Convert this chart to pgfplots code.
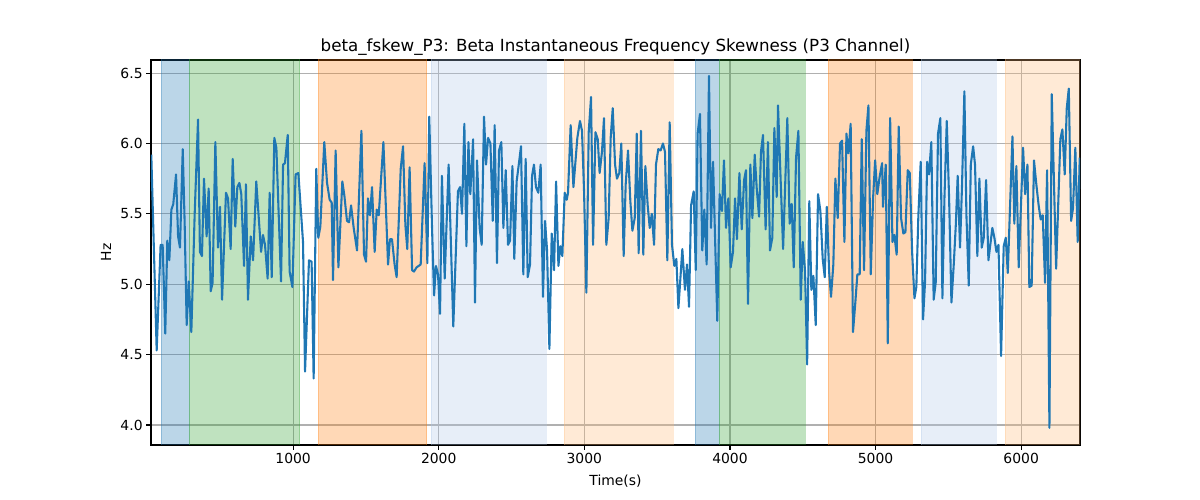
\documentclass[border=0pt]{standalone}
\usepackage{fontspec}
\setmainfont{DejaVu Sans}
\usepackage{pgfplots}
\pgfplotsset{compat=1.18}
\definecolor{tabblue}{HTML}{1F77B4}
\definecolor{tabgreen}{HTML}{2CA02C}
\definecolor{taborange}{HTML}{FF7F0E}
\definecolor{tablblue}{HTML}{AEC7E8}
\definecolor{tablorange}{HTML}{FFBB78}
\definecolor{gridgray}{HTML}{B0B0B0}
\begin{document}
\begin{tikzpicture}
\useasboundingbox (-151pt,-55pt) rectangle (1049pt,445pt);
\begin{axis}[
  scale only axis,
  width=929pt, height=385pt,
  xmin=24, xmax=6404, ymin=3.858, ymax=6.593,
  font=\fontsize{13.9}{16}\selectfont,
  /pgf/number format/assume math mode=true,
  xtick={1000,2000,3000,4000,5000,6000},
  ytick={4.0,4.5,5.0,5.5,6.0,6.5},
  xticklabel style={/pgf/number format/1000 sep={}},
  yticklabel style={/pgf/number format/fixed,/pgf/number format/fixed zerofill,/pgf/number format/precision=1},
  tick align=outside, xtick pos=left, ytick pos=left,
  major tick length=4.86pt,
  every tick/.style={black, line width=1.1pt},
  axis line style={line width=1.1pt},
  grid=major,
  major grid style={gridgray, line width=1.1pt},
  title={beta\_fskew\_P3: Beta Instantaneous Frequency Skewness (P3 Channel)},
  title style={font=\fontsize{16.7}{19}\selectfont, at={(axis description cs:0.5,1)}, anchor=center, yshift=7pt},
  xlabel={Time(s)},
  xlabel style={at={(axis description cs:0.5,0)}, anchor=center, yshift=-36pt},
  ylabel={Hz},
  ylabel style={at={(axis description cs:0,0.5)}, anchor=center, yshift=45pt},
]
\addplot[fill=tabblue, fill opacity=0.3, draw=tabblue, draw opacity=0.3] coordinates {(93,3) (93,7) (287,7) (287,3)} -- cycle;
\addplot[fill=tabgreen, fill opacity=0.3, draw=tabgreen, draw opacity=0.3] coordinates {(287,3) (287,7) (1044,7) (1044,3)} -- cycle;
\addplot[fill=taborange, fill opacity=0.3, draw=taborange, draw opacity=0.3] coordinates {(1172,3) (1172,7) (1917,7) (1917,3)} -- cycle;
\addplot[fill=tablblue, fill opacity=0.3, draw=tablblue, draw opacity=0.3] coordinates {(1946,3) (1946,7) (2735,7) (2735,3)} -- cycle;
\addplot[fill=tablorange, fill opacity=0.3, draw=tablorange, draw opacity=0.3] coordinates {(2861,3) (2861,7) (3611,7) (3611,3)} -- cycle;
\addplot[fill=tabblue, fill opacity=0.3, draw=tabblue, draw opacity=0.3] coordinates {(3760,3) (3760,7) (3927,7) (3927,3)} -- cycle;
\addplot[fill=tabgreen, fill opacity=0.3, draw=tabgreen, draw opacity=0.3] coordinates {(3927,3) (3927,7) (4514,7) (4514,3)} -- cycle;
\addplot[fill=taborange, fill opacity=0.3, draw=taborange, draw opacity=0.3] coordinates {(4674,3) (4674,7) (5250,7) (5250,3)} -- cycle;
\addplot[fill=tablblue, fill opacity=0.3, draw=tablblue, draw opacity=0.3] coordinates {(5313,3) (5313,7) (5827,7) (5827,3)} -- cycle;
\addplot[fill=tablorange, fill opacity=0.3, draw=tablorange, draw opacity=0.3] coordinates {(5890,3) (5890,7) (6500,7) (6500,3)} -- cycle;
\addplot[tabblue, line width=2.08pt, line join=round, mark=none] table {
x y
26 5.92
63 4.53
90 5.28
104 5.28
122 4.65
136 5.31
150 5.17
164 5.53
177 5.57
196 5.78
210 5.34
223 5.26
242 5.96
255 5.44
269 4.71
283 5.02
301 4.66
324 5.50
347 6.17
360 5.23
374 5.20
388 5.75
406 5.34
420 5.68
434 4.95
447 5.01
466 6.01
484 5.26
498 5.55
512 4.89
539 5.65
553 5.61
571 5.25
585 5.89
603 5.41
617 5.69
631 5.72
644 5.64
663 5.13
676 5.71
690 4.89
709 5.34
725 5.17
747 5.73
780 5.23
793 5.35
807 5.28
825 5.04
839 5.65
853 5.05
871 6.04
885 5.97
917 5.02
931 5.85
944 5.86
963 6.06
976 5.09
995 4.98
1017 5.78
1036 5.79
1068 5.30
1082 4.38
1109 5.17
1127 5.16
1141 4.33
1159 5.82
1173 5.33
1187 5.41
1214 6.01
1233 5.72
1251 5.60
1265 5.58
1274 5.03
1292 5.95
1311 5.12
1338 5.73
1352 5.63
1370 5.45
1384 5.44
1398 5.56
1416 5.40
1439 5.24
1469 6.09
1487 5.21
1501 5.16
1514 5.61
1528 5.49
1542 5.69
1560 5.23
1574 5.53
1588 5.49
1620 6.01
1652 5.14
1665 5.32
1679 5.32
1697 5.14
1711 5.05
1739 5.82
1755 5.98
1771 5.42
1784 5.25
1800 5.83
1817 5.10
1830 5.09
1848 5.12
1862 5.13
1876 5.14
1903 5.86
1922 5.15
1935 6.19
1954 5.40
1968 4.92
1981 5.13
1995 5.07
2009 4.79
2022 5.77
2041 5.04
2068 5.85
2087 5.17
2100 4.70
2132 5.66
2146 5.69
2160 5.50
2176 6.14
2190 5.27
2204 6.01
2217 5.64
2236 6.03
2249 4.87
2263 5.88
2281 5.40
2295 5.28
2311 6.19
2325 5.85
2339 6.04
2355 6.00
2371 5.45
2384 6.13
2400 5.15
2414 5.95
2430 6.01
2444 5.40
2460 5.81
2476 5.28
2490 5.31
2506 5.84
2519 5.18
2535 5.73
2551 5.86
2565 5.98
2581 5.07
2597 5.89
2611 5.05
2627 5.14
2641 5.77
2654 5.85
2668 5.69
2684 5.65
2700 5.85
2716 4.91
2730 5.45
2744 5.24
2760 4.54
2776 5.36
2792 5.10
2806 5.73
2822 5.13
2835 5.27
2849 5.20
2865 5.65
2879 5.60
2888 5.65
2906 6.13
2925 5.69
2952 6.04
2970 6.16
2984 6.09
2998 5.66
3014 4.94
3030 6.08
3046 6.33
3060 5.28
3076 6.08
3092 6.03
3105 5.79
3121 5.94
3135 6.18
3151 5.28
3167 5.47
3181 6.04
3195 6.25
3211 5.85
3224 5.75
3240 5.79
3254 6.00
3270 5.20
3284 5.71
3300 5.95
3316 5.59
3330 5.38
3346 5.47
3360 6.07
3373 5.22
3389 6.09
3405 5.21
3419 5.84
3435 5.56
3449 5.40
3463 5.50
3479 5.28
3492 5.85
3508 5.96
3524 5.95
3540 6.00
3554 5.94
3570 5.17
3586 6.15
3602 5.28
3618 5.13
3632 5.18
3646 4.83
3673 5.25
3691 4.96
3705 5.14
3719 4.84
3733 5.56
3751 5.66
3765 5.10
3778 6.07
3794 6.21
3810 5.24
3824 5.53
3840 5.14
3856 6.48
3870 5.40
3884 5.87
3900 5.24
3913 4.74
3929 5.64
3945 5.52
3959 5.88
3973 5.40
3989 5.61
4005 5.12
4021 5.23
4035 5.61
4048 5.32
4065 5.79
4081 5.39
4097 5.74
4110 5.81
4124 4.86
4140 5.85
4154 5.47
4170 5.92
4184 5.68
4200 5.48
4213 5.94
4227 6.06
4245 5.39
4261 6.01
4275 5.24
4291 5.33
4305 6.11
4321 5.62
4330 6.27
4365 5.25
4394 6.18
4410 5.43
4424 5.57
4438 5.12
4454 5.90
4470 6.09
4486 4.89
4500 5.30
4516 5.09
4530 4.43
4545 5.59
4559 4.96
4573 5.06
4589 4.71
4605 5.64
4621 5.52
4637 5.18
4651 5.05
4665 5.55
4681 5.09
4694 4.91
4710 5.14
4724 5.75
4740 5.47
4756 6.00
4770 6.02
4786 5.30
4800 6.07
4813 5.93
4829 6.14
4845 4.66
4861 4.87
4875 5.07
4891 5.07
4905 6.03
4921 5.10
4937 6.09
4951 6.27
4967 5.07
4983 5.61
4997 5.88
5012 5.64
5029 5.77
5045 5.86
5051 5.55
5070 5.85
5084 4.58
5100 6.18
5116 5.30
5129 5.35
5145 5.21
5159 6.12
5175 5.47
5191 5.36
5205 5.37
5221 5.81
5235 5.79
5251 5.23
5267 4.90
5280 4.98
5294 5.49
5310 5.87
5326 4.75
5340 5.02
5354 5.87
5367 5.78
5383 6.01
5399 4.89
5413 5.01
5429 6.07
5445 6.18
5459 4.90
5473 5.61
5489 6.16
5505 5.61
5521 4.87
5537 5.14
5551 5.42
5564 5.77
5580 5.26
5594 5.71
5610 6.37
5624 5.49
5640 4.99
5654 5.85
5670 5.98
5683 5.85
5699 5.20
5713 5.75
5729 5.26
5743 5.33
5759 5.74
5775 5.17
5802 5.40
5816 5.33
5830 5.23
5844 5.28
5862 4.49
5880 5.27
5894 5.33
5908 5.08
5940 6.05
5953 5.43
5967 5.84
5983 5.12
6013 5.97
6027 5.64
6043 5.85
6056 4.98
6072 4.99
6088 5.88
6104 5.71
6120 5.56
6134 5.46
6148 5.49
6164 5.01
6178 5.81
6194 3.98
6210 6.35
6240 5.11
6269 6.03
6283 6.10
6299 5.78
6313 6.25
6327 6.39
6343 5.45
6356 5.54
6372 5.97
6388 5.30
6402 5.90
};
\end{axis}
\end{tikzpicture}
\end{document}
